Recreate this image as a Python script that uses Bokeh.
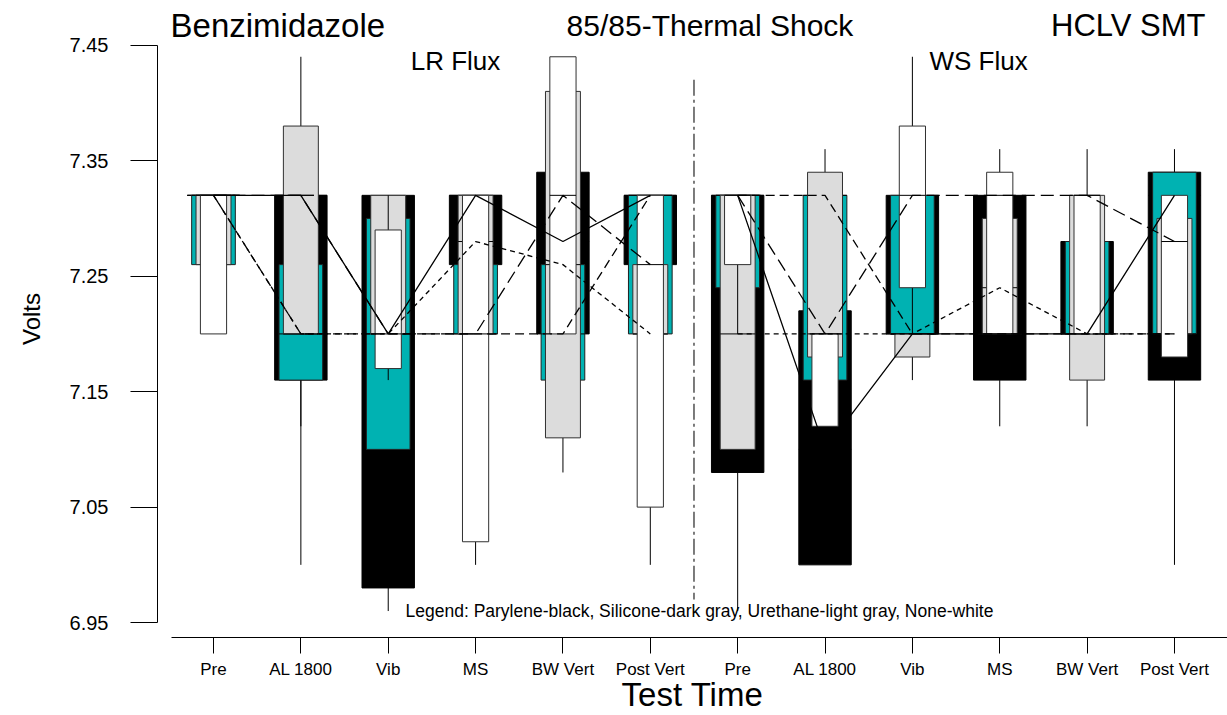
import numpy as np
from bokeh.plotting import figure
from bokeh.models import FixedTicker, Label, Range1d, PrintfTickFormatter
from bokeh.embed import file_html
from bokeh.resources import INLINE

# ---------------- data ----------------
categories = ["Pre", "AL 1800", "Vib", "MS", "BW Vert", "Post Vert",
              "Pre", "AL 1800", "Vib", "MS", "BW Vert", "Post Vert"]
group_names = ["LR Flux", "WS Flux"]
y_ticks = [6.95, 7.05, 7.15, 7.25, 7.35, 7.45]

# Parylene (black)
par_lo  = [7.32, 7.00, 6.96, 7.26, 7.20, 7.26, 6.96, 7.00, 7.20, 7.12, 7.20, 7.00]
par_q1  = [7.32, 7.16, 6.98, 7.26, 7.20, 7.26, 7.08, 7.00, 7.20, 7.16, 7.20, 7.16]
par_med = [7.32, 7.32, 7.20, 7.32, 7.28, 7.32, 7.32, 7.10, 7.20, 7.20, 7.20, 7.32]
par_q3  = [7.32, 7.32, 7.32, 7.32, 7.34, 7.32, 7.32, 7.22, 7.32, 7.32, 7.28, 7.34]
par_hi  = [7.32, 7.32, 7.32, 7.32, 7.34, 7.32, 7.32, 7.22, 7.32, 7.32, 7.28, 7.36]

# Silicone (dark gray -> teal)
sil_lo  = [7.26, 7.12, 7.10, 7.20, 7.16, 7.20, 7.24, 7.16, 7.20, 7.20, 7.20, 7.20]
sil_q1  = [7.26, 7.16, 7.10, 7.20, 7.16, 7.20, 7.24, 7.16, 7.20, 7.20, 7.20, 7.20]
sil_med = [7.32, 7.20, 7.20, 7.20, 7.20, 7.32, 7.32, 7.32, 7.20, 7.20, 7.20, 7.20]
sil_q3  = [7.32, 7.26, 7.30, 7.26, 7.26, 7.32, 7.32, 7.32, 7.32, 7.20, 7.28, 7.34]
sil_hi  = [7.32, 7.26, 7.30, 7.26, 7.26, 7.32, 7.32, 7.32, 7.32, 7.20, 7.28, 7.34]

# Urethane (light gray)
ure_lo  = [7.26, 7.20, 7.20, 7.20, 7.08, 7.20, 7.10, 7.18, 7.16, 7.20, 7.12, 7.20]
ure_q1  = [7.26, 7.20, 7.20, 7.20, 7.11, 7.20, 7.10, 7.18, 7.18, 7.20, 7.16, 7.20]
ure_med = [7.32, 7.20, 7.20, 7.28, 7.26, 7.20, 7.20, 7.20, 7.20, 7.24, 7.20, 7.20]
ure_q3  = [7.32, 7.38, 7.32, 7.32, 7.41, 7.26, 7.32, 7.34, 7.20, 7.30, 7.32, 7.30]
ure_hi  = [7.32, 7.44, 7.32, 7.32, 7.41, 7.26, 7.32, 7.36, 7.20, 7.30, 7.36, 7.30]

# None (white)
non_lo  = [7.20, 7.32, 7.16, 7.00, 7.20, 7.00, 7.20, 7.12, 7.20, 7.20, 7.20, 7.18]
non_q1  = [7.20, 7.32, 7.17, 7.02, 7.20, 7.05, 7.26, 7.12, 7.24, 7.20, 7.20, 7.18]
non_med = [7.32, 7.32, 7.20, 7.20, 7.32, 7.26, 7.32, 7.20, 7.32, 7.32, 7.32, 7.28]
non_q3  = [7.32, 7.32, 7.29, 7.32, 7.44, 7.32, 7.32, 7.20, 7.38, 7.34, 7.32, 7.32]
non_hi  = [7.32, 7.32, 7.32, 7.32, 7.44, 7.32, 7.32, 7.20, 7.44, 7.36, 7.32, 7.32]

# ---------------- styles ----------------
FONT = "Liberation Sans"
series = [
    # name, arrays, fill, outline, box width (category units), median-link dash
    ("Parylene", (par_lo, par_q1, par_med, par_q3, par_hi), "#000000", "#000000", 0.60, "solid"),
    ("Silicone", (sil_lo, sil_q1, sil_med, sil_q3, sil_hi), "#00b2b2", "#202020", 0.50, "9 5"),
    ("Urethane", (ure_lo, ure_q1, ure_med, ure_q3, ure_hi), "#dcdcdc", "#303030", 0.40, "5 4"),
    ("None",     (non_lo, non_q1, non_med, non_q3, non_hi), "#ffffff", "#303030", 0.30, "13 6"),
]

x = np.arange(len(categories), dtype=float)
n_per_group = 6

p = figure(width=1227, height=715,
           x_range=Range1d(-0.641, 11.607), y_range=Range1d(6.93709, 7.48873),
           output_backend="svg", toolbar_location=None, title=None,
           min_border_left=157, min_border_right=0, min_border_top=0, min_border_bottom=74)
p.xgrid.visible = False
p.ygrid.visible = False
p.outline_line_color = None
p.background_fill_color = "white"
p.border_fill_color = "white"

# boxes, whiskers and medians (back to front: black, teal, gray, white)
for name, (lo, q1, med, q3, hi), fill, outline, w, dash in series:
    lo, q1, med, q3, hi = map(np.asarray, (lo, q1, med, q3, hi))
    p.segment(x0=x, y0=q3, x1=x, y1=hi, line_color="black", line_width=1)
    p.segment(x0=x, y0=q1, x1=x, y1=lo, line_color="black", line_width=1)
    p.vbar(x=x, width=w, bottom=q1, top=q3, fill_color=fill, line_color=outline, line_width=1)
    p.segment(x0=x - w / 2, y0=med, x1=x + w / 2, y1=med, line_color="black", line_width=1)

# median connecting lines, on top of all boxes, one trace per group
for name, (lo, q1, med, q3, hi), fill, outline, w, dash in series:
    xs = [list(x[:n_per_group]), list(x[n_per_group:])]
    ys = [list(med[:n_per_group]), list(med[n_per_group:])]
    p.multi_line(xs=xs, ys=ys, line_color="black", line_width=1.3, line_dash=dash)

# group divider
divider_x = [5.5, 5.5]
divider_y = [7.42, 6.97]
p.line(x=divider_x, y=divider_y, line_color="#505050", line_width=1.5, line_dash="16 4 3 4")

# ---------------- axes ----------------
p.yaxis.bounds = (6.95, 7.45)
p.yaxis.ticker = FixedTicker(ticks=y_ticks)
p.yaxis.formatter = PrintfTickFormatter(format="%.2f")
p.yaxis.major_tick_out = 27
p.yaxis.major_tick_in = 0
p.yaxis.minor_tick_out = 0
p.yaxis.minor_tick_in = 0
p.yaxis.major_label_standoff = 22
p.yaxis.major_label_text_font = FONT
p.yaxis.major_label_text_font_size = "20px"
p.yaxis.major_label_text_color = "black"
p.yaxis.axis_label = "Volts"
p.yaxis.axis_label_text_font = FONT
p.yaxis.axis_label_text_font_size = "24px"
p.yaxis.axis_label_text_font_style = "normal"
p.yaxis.axis_label_text_color = "black"
p.yaxis.axis_label_standoff = 22

p.xaxis.bounds = (-0.481, 11.607)
p.xaxis.ticker = FixedTicker(ticks=list(range(len(categories))))
p.xaxis.major_label_overrides = {i: c for i, c in enumerate(categories)}
p.xaxis.major_tick_out = 16
p.xaxis.major_tick_in = 0
p.xaxis.minor_tick_out = 0
p.xaxis.minor_tick_in = 0
p.xaxis.major_label_standoff = 6
p.xaxis.major_label_text_font = FONT
p.xaxis.major_label_text_font_size = "17px"
p.xaxis.major_label_text_color = "black"
p.xaxis.axis_label = "Test Time"
p.xaxis.axis_label_text_font = FONT
p.xaxis.axis_label_text_font_size = "33px"
p.xaxis.axis_label_text_font_style = "normal"
p.xaxis.axis_label_text_color = "black"
p.xaxis.axis_label_standoff = -6

for ax in (p.xaxis[0], p.yaxis[0]):
    ax.axis_line_color = "black"
    ax.major_tick_line_color = "black"

# ---------------- texts ----------------
def add_label(xv, yv, text, size, align="left"):
    p.add_layout(Label(x=xv, y=yv, text=text, text_font=FONT, text_font_size=size,
                       text_align=align, text_baseline="alphabetic", text_color="black"))

add_label(-0.492, 7.4672, "Benzimidazole", "33px", "left")
add_label(5.683, 7.4672, "85/85-Thermal Shock", "30px", "center")
add_label(11.355, 7.4672, "HCLV SMT", "31px", "right")
add_label(2.770, 7.4362, group_names[0], "26px", "center")
add_label(8.757, 7.4362, group_names[1], "26px", "center")
add_label(2.198, 6.9603, "Legend: Parylene-black, Silicone-dark gray, Urethane-light gray, None-white", "17.5px", "left")

open("out.html", "w").write(file_html(p, INLINE))
